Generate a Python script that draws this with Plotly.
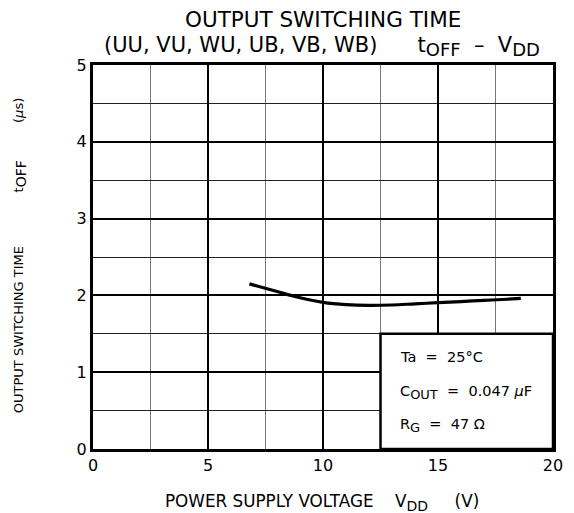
import plotly.graph_objects as go

vdd = [6.8, 8.0, 9.0, 10.0, 11.0, 12.0, 13.0, 14.0, 15.0, 16.0, 17.0, 18.0, 18.6]
toff = [2.15, 2.05, 1.97, 1.91, 1.88, 1.87, 1.875, 1.89, 1.905, 1.92, 1.935, 1.95, 1.96]

x_ticks = [0, 5, 10, 15, 20]
y_ticks = [0, 1, 2, 3, 4, 5]

FONT = "DejaVu Sans"
NB = "\u00a0"


def sp(n):
    return NB * n


def sub(txt, px):
    return '<sub><span style="font-size:%dpx">%s</span></sub>' % (px, txt)


fig = go.Figure()
fig.add_trace(go.Scatter(x=vdd, y=toff, mode="lines", line=dict(color="black", width=3.2, shape="spline"),
                         showlegend=False, hoverinfo="skip"))

fig.update_layout(
    width=574, height=513,
    margin=dict(l=93, r=21, t=65, b=64),
    paper_bgcolor="white", plot_bgcolor="white",
    font=dict(family=FONT, color="black"),
    xaxis=dict(range=[0, 20], tickvals=x_ticks, ticktext=[str(v) for v in x_ticks],
               showgrid=True, gridcolor="black", gridwidth=1.5,
               minor=dict(dtick=2.5, showgrid=True, gridcolor="#777777", gridwidth=1),
               showline=True, linecolor="black", linewidth=3, mirror=True,
               ticks="", zeroline=False, tickfont=dict(size=16, family=FONT)),
    yaxis=dict(range=[0, 5], tickvals=y_ticks, ticktext=[str(v) for v in y_ticks],
               showgrid=True, gridcolor="black", gridwidth=1.5,
               minor=dict(dtick=0.5, showgrid=True, gridcolor="#222222", gridwidth=1.2),
               showline=True, linecolor="black", linewidth=3, mirror=True,
               ticks="", zeroline=False, tickfont=dict(size=16, family=FONT)),
    shapes=[dict(type="rect", xref="x", yref="y", x0=12.5, x1=20, y0=0, y1=1.5,
                 fillcolor="white", line=dict(color="black", width=2.5), layer="above")],
)

# title lines
fig.add_annotation(text="OUTPUT SWITCHING TIME", xref="paper", yref="paper",
                   x=0.5, y=1.118, xanchor="center", yanchor="middle", showarrow=False,
                   font=dict(size=21.5, family=FONT))
fig.add_annotation(text="(UU, VU, WU, UB, VB, WB)" + sp(6) + "t" + sub("OFF", 18) + sp(2) + "–" + sp(2)
                   + "V" + sub("DD", 18),
                   xref="paper", yref="paper",
                   x=0.497, y=1.047, xanchor="center", yanchor="middle", showarrow=False,
                   font=dict(size=21, family=FONT))

ann = [
    dict(text="Ta" + sp(2) + "=" + sp(2) + "25°C", x=13.25, y=1.2),
    dict(text="C" + sub("OUT", 13) + sp(2) + "=" + sp(2) + "0.047" + sp(1) + "<i>μ</i>F", x=13.25, y=0.74),
    dict(text="R" + sub("G", 13) + sp(2) + "=" + sp(2) + "47" + sp(1) + "Ω", x=13.25, y=0.31),
]
for a in ann:
    fig.add_annotation(text=a["text"], x=a["x"], y=a["y"], xref="x", yref="y",
                       xanchor="left", yanchor="middle", showarrow=False,
                       font=dict(size=14.5, family=FONT))

fig.add_annotation(text="POWER SUPPLY VOLTAGE" + sp(4) + "V" + sub("DD", 14) + sp(5) + "(V)",
                   xref="paper", yref="paper",
                   x=0.497, y=-0.14, xanchor="center", yanchor="middle", showarrow=False,
                   font=dict(size=16.8, family=FONT))
fig.add_annotation(text="OUTPUT SWITCHING TIME" + sp(13) + "t" + sub("OFF", 14) + sp(9) + "(<i>μ</i>s)",
                   xref="paper", yref="paper",
                   x=-0.158, y=0.503, xanchor="center", yanchor="middle", showarrow=False, textangle=-90,
                   font=dict(size=13, family=FONT))

fig.write_html("out.html", config={"displayModeBar": False},
               post_script="document.body.style.margin='0';document.body.style.padding='0';")
